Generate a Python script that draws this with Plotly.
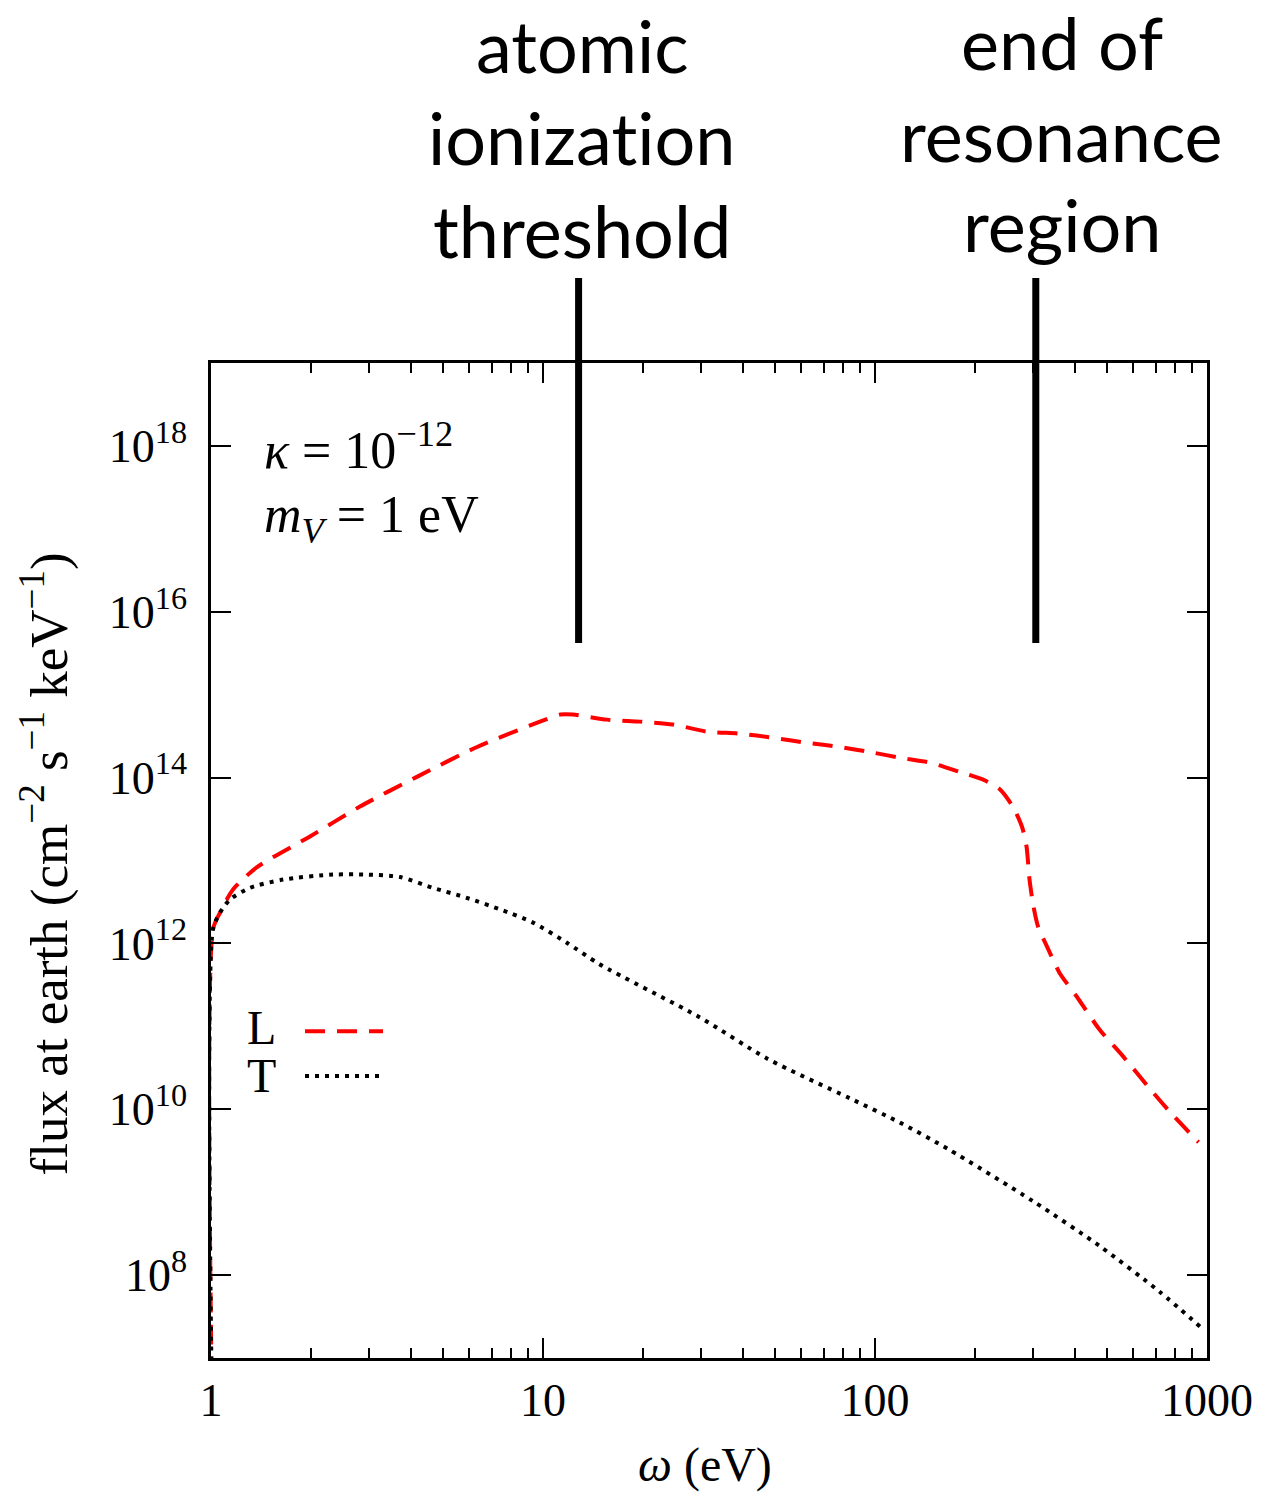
import plotly.graph_objects as go

# ---- data ----
omega_L = [1.01, 1.014, 1.064, 1.165, 1.376, 1.987, 2.81, 4.17, 6.33, 9.79, 11.27, 12.31,
           15.6, 19.6, 24.6, 31.1, 39.2, 49.3, 62.3, 78.4, 98.5, 118.7, 147, 180, 211,
           238, 260, 277, 286, 292, 300, 310, 330, 359, 405, 475, 558, 675, 777, 943]
flux_L = [1e6, 1.48e12, 2.34e12, 4.47e12, 8.3e12, 1.95e13, 4.47e13, 1.02e14, 2.34e14,
          4.73e14, 5.75e14, 5.75e14, 5.0e14, 4.73e14, 4.37e14, 3.59e14, 3.39e14, 3.02e14,
          2.63e14, 2.34e14, 2.0e14, 1.74e14, 1.51e14, 1.17e14, 9.5e13, 7.2e13, 4.47e13,
          2.57e13, 1.48e13, 5.9e12, 2.82e12, 1.58e12, 9.1e11, 4.47e11, 2.29e11, 9.1e10,
          4.37e10, 1.74e10, 9.1e9, 4.0e9]

omega_T = [1.01, 1.014, 1.064, 1.141, 1.311, 1.648, 2.33, 2.95, 3.71, 4.66, 5.89, 7.43,
           9.34, 11.8, 14.8, 29.6, 47.4, 84.2, 118.9, 166, 299, 475, 720, 970]
flux_T = [1e6, 1.48e12, 2.34e12, 3.39e12, 4.68e12, 5.89e12, 6.76e12, 6.76e12, 6.31e12,
          4.68e12, 3.55e12, 2.57e12, 1.78e12, 1.02e12, 5.62e11, 1.29e11, 4.07e10, 1.35e10,
          6.9e9, 3.31e9, 7.8e8, 2.24e8, 6.3e7, 2.24e7]

x_tick_vals = [1, 10, 100, 1000]
x_tick_text = ["1", "10", "100", "1000"]
y_tick_vals = [1e8, 1e10, 1e12, 1e14, 1e16, 1e18]
y_tick_text = ["10<sup>8</sup>", "10<sup>10</sup>", "10<sup>12</sup>",
               "10<sup>14</sup>", "10<sup>16</sup>", "10<sup>18</sup>"]
x_minor_vals = [m * d for d in (1, 10, 100) for m in range(2, 10)]

marker_omega = [12.8, 305]
ZWNJ = "\u200c"
marker_lines = [["atomic", "ionizat" + ZWNJ + "ion", "threshold"],
                ["end of", "resonance", "region"]]

SERIF = "Liberation Serif"
SANS = "Lato"
NB = "&nbsp;"

fig = go.Figure()
fig.add_trace(go.Scatter(x=omega_L, y=flux_L, mode="lines", name="L",
                         line=dict(color="#ff0000", width=4, dash="20px,12px",
                                   shape="spline", smoothing=0.7),
                         showlegend=False))
fig.add_trace(go.Scatter(x=omega_T, y=flux_T, mode="lines", name="T",
                         line=dict(color="black", width=4, dash="4px,6px",
                                   shape="spline", smoothing=0.7),
                         showlegend=False))

axis_common = dict(showgrid=False, zeroline=False, showline=True, linecolor="black",
                   linewidth=2.5, mirror="ticks", ticks="inside", tickcolor="black",
                   tickwidth=2, tickfont=dict(family=SERIF, size=46, color="black"))

fig.update_xaxes(type="log", range=[0, 3], tickmode="array", tickvals=x_tick_vals,
                 ticktext=x_tick_text, ticklen=20, ticklabelstandoff=0,
                 minor=dict(tickmode="array", tickvals=x_minor_vals, ticks="inside",
                            ticklen=10, tickwidth=2, tickcolor="black", showgrid=False),
                 **axis_common)
fig.update_yaxes(type="log", range=[7, 19], tickmode="array", tickvals=y_tick_vals,
                 ticktext=y_tick_text, ticklen=20, ticklabelstandoff=12, **axis_common)

# marker lines (atomic ionization threshold, end of resonance)
for xv in marker_omega:
    fig.add_shape(type="line", xref="x", yref="paper", x0=xv, x1=xv,
                  y0=0.7186, y1=1.0854, line=dict(color="black", width=7))

# marker labels, one annotation per line
block_x = [0.3725, 0.8544]
block_y = [[1.3196, 1.2271, 1.1337], [1.3222, 1.2298, 1.1393]]
for bx, by, lines in zip(block_x, block_y, marker_lines):
    for yy, txt in zip(by, lines):
        fig.add_annotation(text=txt, xref="paper", yref="paper", x=bx, y=yy,
                           xanchor="center", yanchor="middle", showarrow=False,
                           font=dict(family=SANS, size=72, color="black"))

# parameter annotations
fig.add_annotation(text="<i>κ</i>" + NB + "=" + NB + "10<sup>−12</sup>", xref="paper", yref="paper",
                   x=0.0512, y=0.9156, xanchor="left", yanchor="middle", showarrow=False,
                   font=dict(family=SERIF, size=52, color="black"))
fig.add_annotation(text="<i>m</i><sub><i>V</i></sub>" + NB + "=" + NB + "1" + NB + "eV",
                   xref="paper", yref="paper",
                   x=0.0512, y=0.8442, xanchor="left", yanchor="middle", showarrow=False,
                   font=dict(family=SERIF, size=52, color="black"))

# axis titles
fig.add_annotation(text="flux at earth (cm<sup>−2</sup> s<sup>−1</sup> keV<sup>−1</sup>)",
                   xref="paper", yref="paper", x=-0.1667, y=0.497, textangle=-90,
                   xanchor="center", yanchor="middle", showarrow=False,
                   font=dict(family=SERIF, size=53, color="black"))
fig.add_annotation(text="<i>ω</i> (eV)", xref="paper", yref="paper", x=0.496, y=-0.1075,
                   xanchor="center", yanchor="middle", showarrow=False,
                   font=dict(family=SERIF, size=48, color="black"))

# manual legend (label left of sample)
fig.add_annotation(text="L", xref="paper", yref="paper", x=0.0512, y=0.3317,
                   xanchor="center", yanchor="middle", showarrow=False,
                   font=dict(family=SERIF, size=48, color="black"))
fig.add_annotation(text="T", xref="paper", yref="paper", x=0.0512, y=0.2844,
                   xanchor="center", yanchor="middle", showarrow=False,
                   font=dict(family=SERIF, size=48, color="black"))
fig.add_shape(type="line", xref="paper", yref="paper", x0=0.0944, x1=0.1727,
              y0=0.3284, y1=0.3284, line=dict(color="#ff0000", width=4, dash="20px,12px"))
fig.add_shape(type="line", xref="paper", yref="paper", x0=0.0944, x1=0.1727,
              y0=0.2834, y1=0.2834, line=dict(color="black", width=4, dash="4px,6px"))

fig.update_layout(width=1266, height=1492, paper_bgcolor="white", plot_bgcolor="white",
                  margin=dict(l=211, r=59, t=363, b=134), showlegend=False)

fig.write_html("out.html")
